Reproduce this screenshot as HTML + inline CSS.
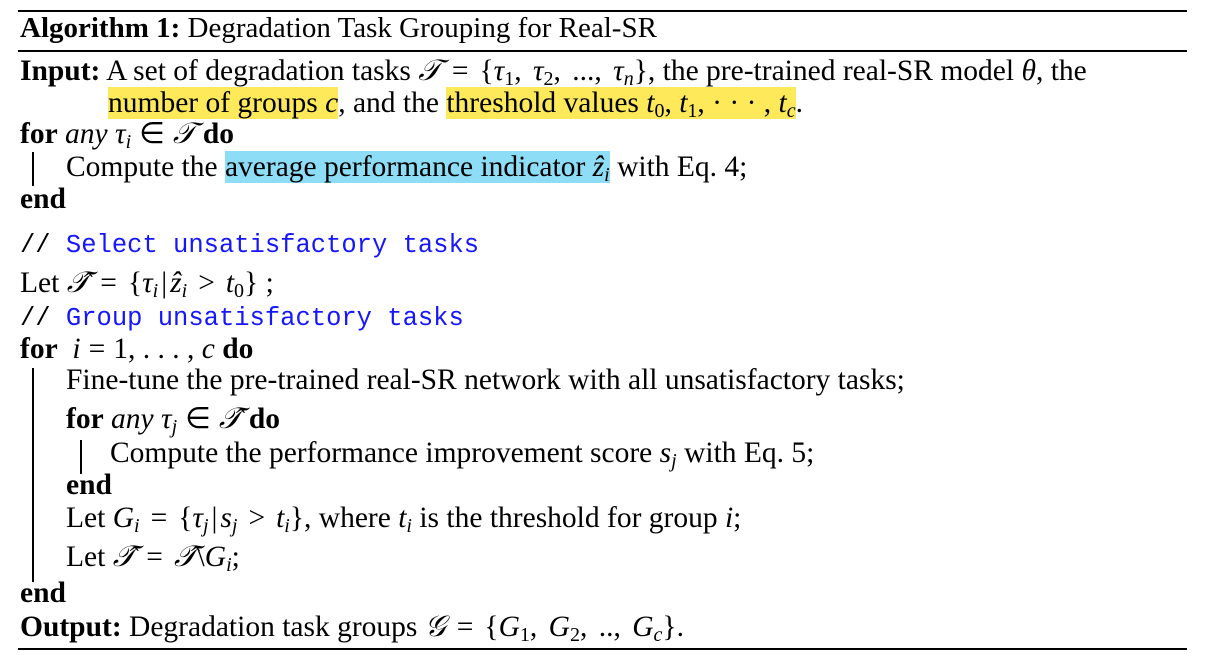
<!DOCTYPE html>
<html><head><meta charset="utf-8"><style>
body{margin:0;width:1205px;height:659px;background:#fff;position:relative;overflow:hidden;font-family:"Liberation Serif",serif;font-size:29.5px;color:#000}
.l{position:absolute;white-space:nowrap;line-height:28px}
.rule{position:absolute;left:18px;width:1169px;background:#000}
.vb{position:absolute;width:1.5px;background:#000}
i{font-style:italic}
b{font-weight:bold}
.y{background:#fde95a}
.c{background:#8dddf6}
.code{font-family:"Liberation Mono",monospace;font-size:25.5px}
.bl{color:#1515ff}
sub{font-size:20px;vertical-align:-5px;line-height:0}
.o{margin:0 8px}
.o2{margin:0 11px}
.m{margin-right:4px}
.p{margin:0 3px}
</style></head><body>
<div class="rule" style="top:10px;height:2px"></div>
<div class="rule" style="top:50px;height:2px"></div>
<div class="rule" style="top:648px;height:2px"></div>

<div class="l" style="left:20px;top:14px;font-size:29px"><b>Algorithm 1:</b> Degradation Task Grouping for Real-SR</div>
<div class="l" style="left:20px;top:57px"><b>Input:</b> A set of degradation tasks <i>𝒯</i><span class="o2">=</span>{<i>τ</i><sub>1</sub>,<span class="m"></span> <i>τ</i><sub>2</sub>,<span class="m"></span> ...,<span class="m"></span> <i>τ<sub>n</sub></i>}, the pre-trained real-SR model <i>θ</i>, the</div>
<div class="l" style="left:108px;top:89px"><span class="y">number of groups <i>c</i></span>, and the <span class="y">threshold values <i>t</i><sub>0</sub>, <i>t</i><sub>1</sub>, · · · , <i>t<sub>c</sub></i></span>.</div>
<div class="l" style="left:20px;top:120px"><b>for</b> <i>any τ<sub>i</sub></i><span class="o">∈</span><i>𝒯</i> <b>do</b></div>
<div class="vb" style="left:32px;top:152px;height:34px"></div>
<div class="l" style="left:66px;top:153px">Compute the <span class="c">average performance indicator <i>ẑ<sub>i</sub></i></span> with Eq. 4;</div>
<div class="l" style="left:20px;top:185px"><b>end</b></div>
<div class="l code" style="left:20px;top:232px">// <span class="bl">Select unsatisfactory tasks</span></div>
<div class="l" style="left:20px;top:269px">Let <i>𝒯̂</i><span class="o2">=</span>{<i>τ<sub>i</sub></i><span class="p">|</span><i>ẑ<sub>i</sub></i><span class="o2">&gt;</span><i>t</i><sub>0</sub>} ;</div>
<div class="l code" style="left:20px;top:305px">// <span class="bl">Group unsatisfactory tasks</span></div>
<div class="l" style="left:20px;top:335px"><b>for</b> &nbsp;<i>i</i><span class="o">=</span>1, . . . , <i>c</i> <b>do</b></div>
<div class="vb" style="left:32px;top:368px;height:214px"></div>
<div class="l" style="left:66px;top:366px">Fine-tune the pre-trained real-SR network with all unsatisfactory tasks;</div>
<div class="l" style="left:66px;top:405px"><b>for</b> <i>any τ<sub>j</sub></i><span class="o">∈</span><i>𝒯̂</i> <b>do</b></div>
<div class="vb" style="left:80px;top:440px;height:34px"></div>
<div class="l" style="left:110px;top:439px">Compute the performance improvement score <i>s<sub>j</sub></i> with Eq. 5;</div>
<div class="l" style="left:66px;top:471px"><b>end</b></div>
<div class="l" style="left:66px;top:504px">Let <i>G<sub>i</sub></i><span class="o2">=</span>{<i>τ<sub>j</sub></i><span class="p">|</span><i>s<sub>j</sub></i><span class="o2">&gt;</span><i>t<sub>i</sub></i>}, where <i>t<sub>i</sub></i> is the threshold for group <i>i</i>;</div>
<div class="l" style="left:66px;top:543px">Let <i>𝒯̂</i><span class="o2">=</span><i>𝒯̂</i>\<i>G<sub>i</sub></i>;</div>
<div class="l" style="left:20px;top:579px"><b>end</b></div>
<div class="l" style="left:20px;top:613px"><b>Output:</b> Degradation task groups <i>𝒢</i><span class="o2">=</span>{<i>G</i><sub>1</sub>,<span class="m"></span> <i>G</i><sub>2</sub>,<span class="m"></span> ..,<span class="m"></span> <i>G<sub>c</sub></i>}.</div>
</body></html>
